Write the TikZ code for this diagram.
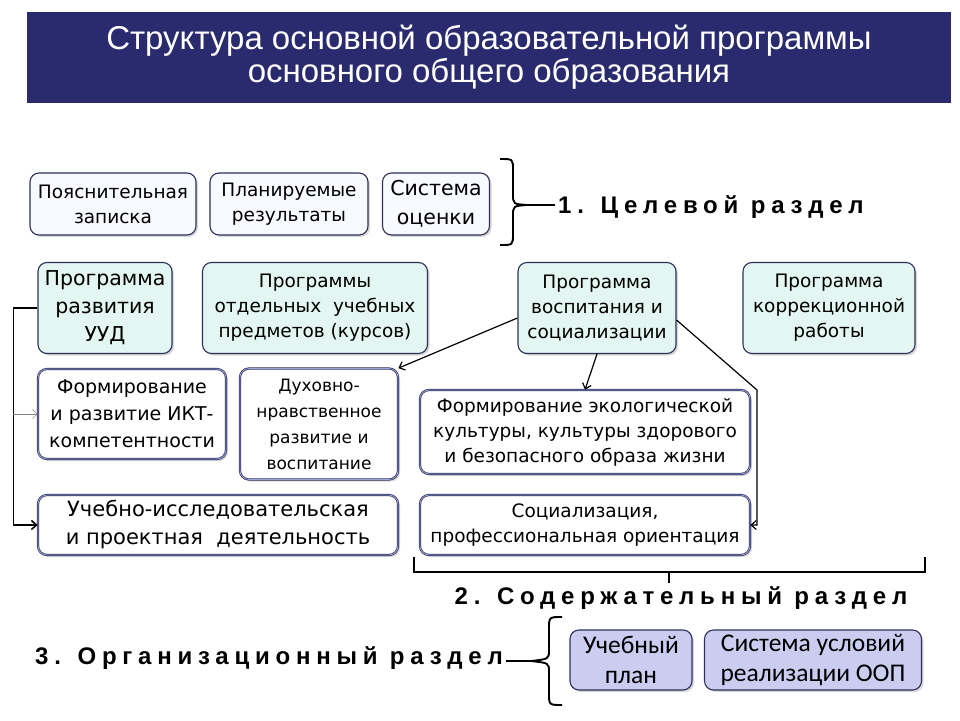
\documentclass[tikz,border=0pt]{standalone}
\usepackage{fontspec}
\setmainfont{DejaVu Sans}
\newfontfamily\headfont{Liberation Sans}
\newfontfamily\partfont[LetterSpace=24]{Liberation Sans}
\newfontfamily\narrowfont{Carlito}
\usetikzlibrary{arrows.meta,calc,shadows}
\definecolor{navy}{HTML}{2A2B6E}
\definecolor{frame}{HTML}{2E2F5C}
\definecolor{mint}{HTML}{E4F6F1}
\definecolor{lilac}{HTML}{CBCDF0}
\definecolor{pale}{HTML}{F9FAFF}
\definecolor{rim}{HTML}{9FA2D8}

\begin{document}
\begin{tikzpicture}[x=1pt,y=-1pt,>={Straight Barb[length=5pt,width=9pt]},
  box/.style={draw=frame,line width=1.1pt,rounded corners=9pt,align=center,
    inner sep=2pt,font=\fontsize{18.5}{25}\selectfont,
    drop shadow={shadow xshift=2pt,shadow yshift=-2pt,opacity=.3}},
  goalbox/.style={box,fill=pale},
  progbox/.style={box,fill=mint},
  partbox/.style={box,fill=white,draw=frame,double=rim,double distance=.8pt,line width=.7pt},
  orgbox/.style={box,fill=lilac,font=\narrowfont\fontsize{25.5}{30}\selectfont},
  link/.style={line width=1.2pt,->},
  brace/.style={line width=1.9pt},
  partlabel/.style={font=\partfont\bfseries\fontsize{24}{26}\selectfont,inner sep=3pt}]
  \useasboundingbox[fill=white] (0,0) rectangle (960,720);

  \node[fill=navy,minimum width=924pt,minimum height=91pt,text=white,align=center,
        font=\headfont\fontsize{33}{36}\selectfont] (title) at (489,57.5)
    {\raisebox{-3pt}{Структура основной образовательной программы}\\основного общего образования};

  % 1. target section
  \node[goalbox,minimum width=166pt,minimum height=62pt] (expl) at (113,204)
    {Пояснительная\\записка};
  \node[goalbox,minimum width=158pt,minimum height=62pt] (plan) at (289,204)
    {Планируемые\\результаты};
  \node[goalbox,minimum width=107pt,minimum height=62pt,
        font=\fontsize{20.5}{29}\selectfont] (eval) at (436,204)
    {Система\\оценки};
  \draw[brace] (500,159) .. controls (513,159) .. (513,170) -- (513,194)
    .. controls (513,204) .. (527,205) coordinate (goaltip)
    .. controls (513,206) .. (513,216) -- (513,234)
    .. controls (513,245) .. (500,245);
  \node[partlabel,anchor=west] (goal) at (555,207) {1. Целевой раздел};
  \draw[brace] (goaltip) -- (goal.west |- goaltip);

  % 2. content section
  \node[progbox,minimum width=134pt,minimum height=91pt,
        font=\fontsize{20.5}{28}\selectfont] (uud) at (105,308)
    {Программа\\развития\\УУД};
  \node[progbox,minimum width=225pt,minimum height=91pt] (subj) at (315,308)
    {Программы\\отдельных\ \ учебных\\предметов (курсов)};
  \node[progbox,minimum width=158pt,minimum height=91pt] (educ) at (597,308)
    {Программа\\воспитания и\\социализации};
  \node[progbox,minimum width=172pt,minimum height=91pt] (corr) at (829,308)
    {Программа\\коррекционной\\работы};

  \node[partbox,minimum width=188pt,minimum height=90pt,
        font=\fontsize{19}{27}\selectfont] (ict) at (132,414)
    {Формирование\\и развитие ИКТ-\\компетентности};
  \node[partbox,minimum width=158pt,minimum height=111pt,
        font=\fontsize{17}{26}\selectfont] (moral) at (319,424)
    {Духовно-\\нравственное\\развитие и\\воспитание};
  \node[partbox,minimum width=330pt,minimum height=84pt] (eco) at (585,432)
    {Формирование экологической\\культуры, культуры здорового\\и безопасного образа жизни};
  \node[partbox,minimum width=360pt,minimum height=60pt,
        font=\fontsize{21}{28}\selectfont] (research) at (218,525)
    {Учебно-исследовательская\\и проектная\ \ деятельность};
  \node[partbox,minimum width=330pt,minimum height=60pt] (social) at (585,525)
    {Социализация,\\профессиональная ориентация};

  \draw[line width=1.6pt,->] (uud.west) -- ++(-24,0) coordinate (spine)
    |- (research.west);
  \draw[->,gray,thin] (spine |- ict.west) -- (ict.west);
  \draw[link] ($(educ.west)+(0,10)$) -- (moral.north east);
  \draw[link] (educ.south) -- (eco.north);
  \coordinate (bend) at (757,390);
  \draw[link] ($(educ.east)+(0,12)$) -- (bend) |- (social.east);

  \draw[brace] (414,557) -- (414,572) -- (925,572) -- (925,557);
  \node[partlabel] (content) at (681,598) {2. Содержательный раздел};
  \coordinate (contenttip) at (669,572);
  \draw[brace] (contenttip) -- (contenttip |- content.north);

  % 3. organisation section
  \node[partlabel,anchor=east] (org) at (506,658) {3. Организационный раздел};
  \draw[brace] (562,617) .. controls (549,617) .. (549,629) -- (549,650)
    .. controls (549,659) .. (531,661) coordinate (orgtip)
    .. controls (549,663) .. (549,672) -- (549,693)
    .. controls (549,705) .. (562,705);
  \draw[brace] (org.east |- orgtip) -- (orgtip);
  \node[orgbox,minimum width=122pt,minimum height=60pt] (curr) at (631,660)
    {Учебный\\план};
  \node[orgbox,minimum width=217pt,minimum height=60pt] (cond) at (813,660)
    {Система условий\\реализации ООП};
\end{tikzpicture}
\end{document}
